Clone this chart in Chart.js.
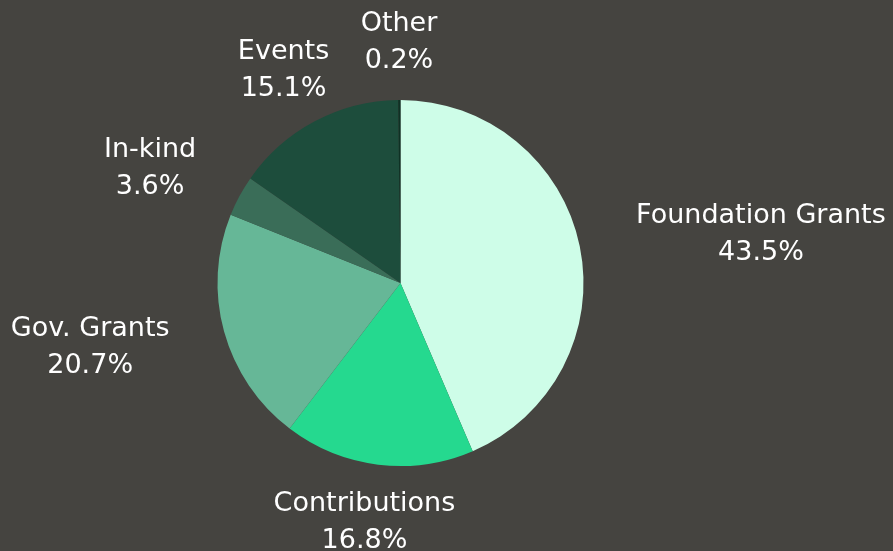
<!DOCTYPE html>
<html>
<head>
<meta charset="utf-8">
<script src="https://cdn.jsdelivr.net/npm/chart.js@4/dist/chart.umd.min.js"></script>
<style>
  html, body { margin: 0; padding: 0; background: #454440; }
  #wrap { width: 893px; height: 551px; position: relative; }
</style>
</head>
<body>
<div id="wrap"><canvas id="chart"></canvas></div>
<script>
const labels = ["Foundation Grants", "Contributions", "Gov. Grants", "In-kind", "Events", "Other"]
const values = [43.5, 16.8, 20.7, 3.6, 15.1, 0.2]
const colors = ["#cefde8", "#25d98f", "#66b797", "#3a6d58", "#1d4d3c", "#0e3124"]

const FONT = "27px 'DejaVu Sans'"
const LINE = 37

// draws "Label / xx.x%" outside each slice
const outsideLabels = {
    id: "outsideLabels",
    afterDatasetsDraw(chart) {
        const { ctx } = chart
        const meta = chart.getDatasetMeta(0)
        ctx.save()
        ctx.font = FONT
        ctx.fillStyle = "#ffffff"
        ctx.textAlign = "center"
        ctx.textBaseline = "middle"
        meta.data.forEach((arc, i) => {
            const { x, y, startAngle, endAngle, outerRadius } = arc.getProps(["x", "y", "startAngle", "endAngle", "outerRadius"], true)
            const mid = (startAngle + endAngle) / 2
            const cos = Math.cos(mid)
            const sin = Math.sin(mid)
            const r = outerRadius + 21
            const ax = x + cos * r
            const ay = y + sin * r
            const lines = [labels[i], values[i].toFixed(1) + "%"]
            const hw = Math.max(...lines.map((l) => ctx.measureText(l).width)) / 2
            const gap = 40 * Math.max(0, (Math.abs(cos) - 0.5) / 0.5)
            const cx = ax + cos * hw + Math.sign(cos) * gap
            const cy = ay + sin * LINE
            ctx.fillText(lines[0], cx, cy - LINE / 2)
            ctx.fillText(lines[1], cx, cy + LINE / 2)
        })
        ctx.restore()
    },
}

new Chart(document.getElementById("chart"), {
    type: "pie",
    data: {
        labels: labels,
        datasets: [
            {
                data: values,
                backgroundColor: colors,
                borderWidth: 0,
            },
        ],
    },
    options: {
        responsive: true,
        maintainAspectRatio: false,
        animation: false,
        layout: {
            padding: { left: 217, right: 309, top: 100, bottom: 85 },
        },
        plugins: {
            legend: { display: false },
            tooltip: { enabled: false },
        },
    },
    plugins: [outsideLabels],
})
</script>
</body>
</html>
